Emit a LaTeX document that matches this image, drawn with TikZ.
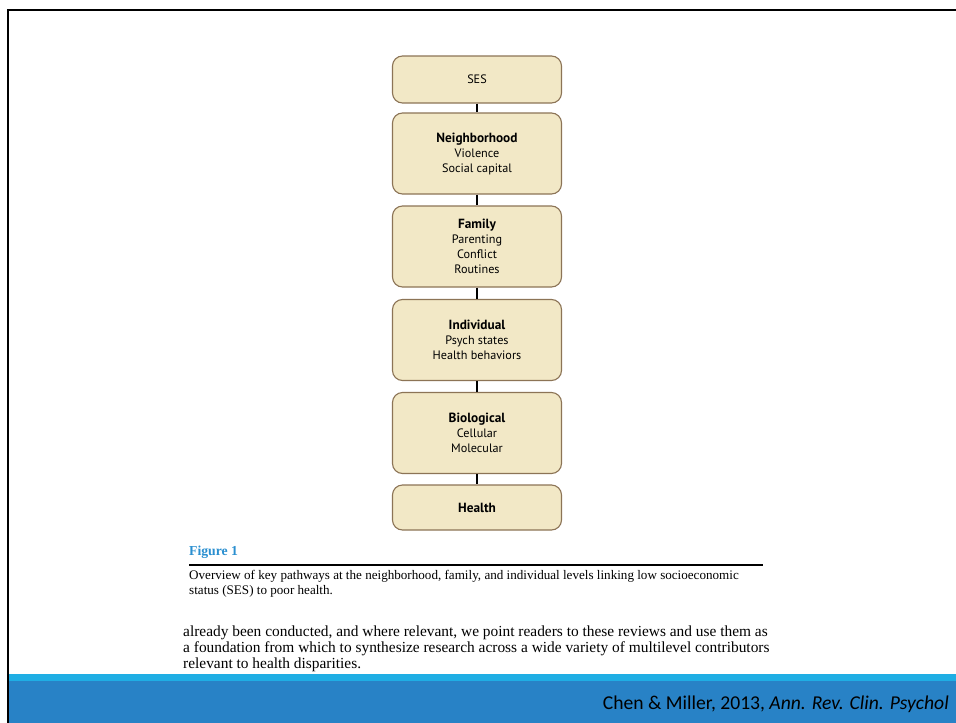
\documentclass[tikz,border=0pt]{standalone}
\usepackage{fontspec}
\setmainfont{Liberation Serif}
\setsansfont{PT Sans}
\newfontfamily\footfont{Carlito}
\newcommand{\lvltitle}[1]{{\fontsize{13.3}{15}\selectfont\bfseries #1}}
\definecolor{boxfill}{HTML}{F2E8C6}
\definecolor{boxline}{HTML}{8C7456}
\definecolor{figblue}{HTML}{2A8FD0}
\definecolor{lightband}{HTML}{1FAEE4}
\definecolor{darkband}{HTML}{2882C6}
\begin{document}
\begin{tikzpicture}[x=1pt,y=-1pt,
  levelbox/.style={draw=boxline, fill=boxfill, line width=1.1pt, rounded corners=10pt,
    minimum width=169pt, align=center, inner sep=0pt,
    font=\sffamily\fontsize{12.2}{15}\selectfont},
  link/.style={draw=black, line width=1.4pt},
  bodytext/.style={anchor=base west, inner sep=0pt, font=\fontsize{15.4}{16}\selectfont},
  captext/.style={anchor=base west, inner sep=0pt, font=\fontsize{13.1}{15}\selectfont}]
\useasboundingbox (0,0) rectangle (956,723);
\fill[white] (0,0) rectangle (956,723);
% frame lines
\draw[line width=2pt] (7,10) -- (956,10);
\draw[line width=2pt] (8,10) -- (8,723);
% nodes
\node[levelbox, minimum height=47pt] (ses) at (477,79.5) {SES};
\node[levelbox, minimum height=81pt] (nbh) at (477,153.5) {\lvltitle{Neighborhood}\\Violence\\Social capital};
\node[levelbox, minimum height=81pt] (fam) at (477,246.5) {\lvltitle{Family}\\Parenting\\Conflict\\Routines};
\node[levelbox, minimum height=81pt] (ind) at (477,340) {\lvltitle{Individual}\\Psych states\\Health behaviors};
\node[levelbox, minimum height=81pt] (bio) at (477,433) {\lvltitle{Biological}\\Cellular\\Molecular};
\node[levelbox, minimum height=45pt] (hea) at (477,507.5) {\lvltitle{Health}};
\draw[link] (ses) -- (nbh);
\draw[link] (nbh) -- (fam);
\draw[link] (fam) -- (ind);
\draw[link] (ind) -- (bio);
\draw[link] (bio) -- (hea);
% caption
\node[captext, text=figblue, font=\bfseries\fontsize{13.7}{15}\selectfont] (figlabel) at (189,555) {Figure 1};
\coordinate (rulea) at (189,565);
\coordinate (ruleb) at (763,565);
\draw[line width=1.2pt] (rulea) -- (ruleb);
\node[captext] (cap1) at (189,579) {Overview of key pathways at the neighborhood, family, and individual levels linking low socioeconomic};
\node[captext] (cap2) at (189,594) {status (SES) to poor health.};
% body text
\node[bodytext] (body1) at (183,636) {already been conducted, and where relevant, we point readers to these reviews and use them as};
\node[bodytext] (body2) at (183,652) {a foundation from which to synthesize research across a wide variety of multilevel contributors};
\node[bodytext] (body3) at (183,668) {relevant to health disparities.};
% footer bands
\fill[lightband] (9,674) rectangle (956,681);
\fill[darkband] (9,681) rectangle (956,723);
\node[anchor=base east, inner sep=0pt, font=\footfont\fontsize{19.6}{20}\selectfont] (foot) at (949,709) {Chen \& Miller, 2013, \textit{Ann. Rev. Clin. Psychol}};
\end{tikzpicture}
\end{document}
